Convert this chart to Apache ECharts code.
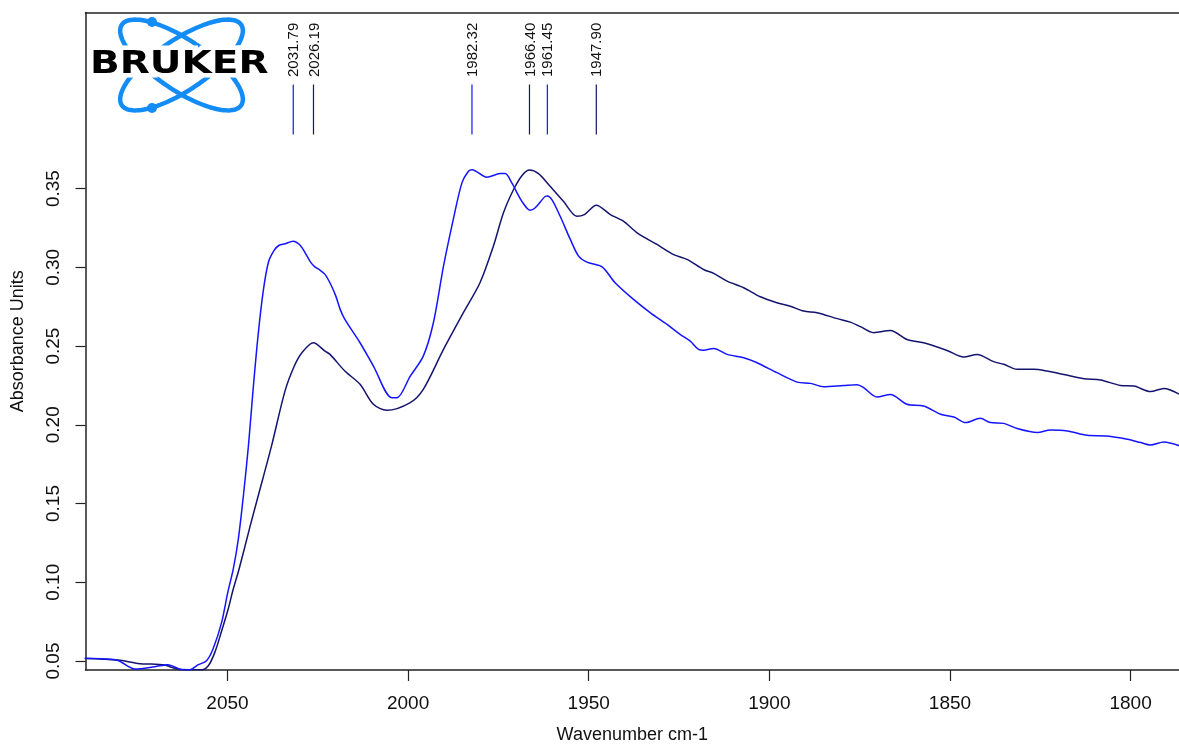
<!DOCTYPE html>
<html>
<head>
<meta charset="utf-8">
<title>Absorbance spectrum</title>
<script src="https://cdn.jsdelivr.net/npm/echarts@6/dist/echarts.min.js"></script>
<style>
  html, body { margin: 0; padding: 0; background: #fff; }
  #chart { width: 1179px; height: 749px; }
</style>
</head>
<body>
<div id="chart"></div>
<script>
// Spectrum A (bright blue trace): wavenumber (cm-1) and absorbance
const spectrumAWn = [
  2089.5, 2083.9, 2080.3, 2075.6, 2070.1, 2066.5, 2062.6, 2060.4, 2058.2, 2055.8,
  2054.0, 2051.6, 2049.9, 2048.4, 2047.0, 2045.6, 2044.2, 2042.9, 2041.5, 2040.1,
  2038.7, 2037.1, 2035.7, 2034.1, 2031.8, 2029.9, 2028.5, 2027.0, 2025.8, 2024.4,
  2023.0, 2021.4, 2020.0, 2018.8, 2017.5, 2013.3, 2009.6, 2004.5, 2003.1, 1999.4,
  1995.8, 1993.0, 1990.2, 1987.5, 1985.1, 1983.3, 1982.3, 1978.2, 1974.5, 1973.1,
  1971.3, 1968.5, 1966.2, 1964.8, 1962.0, 1961.5, 1960.2, 1957.9, 1955.1, 1952.8,
  1950.5, 1946.3, 1942.7, 1937.6, 1933.0, 1928.3, 1924.7, 1921.9, 1919.6, 1918.2,
  1915.4, 1911.7, 1907.1, 1903.4, 1897.9, 1892.3, 1888.6, 1885.0, 1879.4, 1875.7,
  1873.9, 1870.2, 1866.5, 1861.9, 1857.3, 1852.6, 1848.9, 1845.7, 1841.6, 1838.8,
  1835.1, 1831.4, 1825.8, 1822.2, 1817.5, 1812.0, 1806.5, 1800.9, 1797.2, 1794.5,
  1790.8, 1786.4
];
const spectrumAAbs = [
  0.0517, 0.0513, 0.0503, 0.0449, 0.0464, 0.0477, 0.0446, 0.0445, 0.0475, 0.0502,
  0.0576, 0.0747, 0.0938, 0.1083, 0.1274, 0.1548, 0.1866, 0.2225, 0.2574, 0.2849,
  0.3029, 0.3107, 0.3140, 0.3149, 0.3165, 0.3140, 0.3092, 0.3033, 0.3003, 0.2982,
  0.2955, 0.2891, 0.2817, 0.2733, 0.2669, 0.2521, 0.2373, 0.2172, 0.2172, 0.2309,
  0.2436, 0.2648, 0.3007, 0.3303, 0.3536, 0.3610, 0.3620, 0.3572, 0.3595, 0.3595,
  0.3536, 0.3419, 0.3362, 0.3378, 0.3451, 0.3453, 0.3430, 0.3324, 0.3177, 0.3071,
  0.3033, 0.3003, 0.2902, 0.2796, 0.2712, 0.2637, 0.2574, 0.2531, 0.2479, 0.2474,
  0.2485, 0.2447, 0.2426, 0.2394, 0.2331, 0.2271, 0.2263, 0.2242, 0.2250, 0.2255,
  0.2236, 0.2176, 0.2193, 0.2130, 0.2119, 0.2067, 0.2049, 0.2014, 0.2041, 0.2014,
  0.2009, 0.1976, 0.1951, 0.1967, 0.1961, 0.1933, 0.1929, 0.1908, 0.1887, 0.1872,
  0.1891, 0.1866
];

// Spectrum B (navy trace)
const spectrumBWn = [
  2089.5, 2080.3, 2074.8, 2067.3, 2065.5, 2062.7, 2057.1, 2055.3, 2053.5, 2051.6,
  2049.8, 2048.4, 2046.8, 2043.8, 2041.5, 2037.8, 2034.1, 2031.5, 2029.4, 2026.2,
  2023.0, 2021.6, 2017.5, 2013.3, 2009.6, 2005.9, 1999.4, 1995.8, 1990.2, 1984.7,
  1980.1, 1976.4, 1973.6, 1970.8, 1968.5, 1966.4, 1963.9, 1960.7, 1957.0, 1953.3,
  1951.2, 1947.9, 1944.0, 1940.4, 1936.6, 1931.1, 1926.5, 1922.8, 1918.2, 1915.4,
  1911.7, 1907.1, 1902.5, 1897.9, 1894.2, 1890.5, 1886.8, 1881.2, 1877.6, 1874.8,
  1871.1, 1866.5, 1861.9, 1857.3, 1850.8, 1846.2, 1842.5, 1837.9, 1835.1, 1831.4,
  1826.8, 1823.1, 1818.5, 1812.9, 1808.3, 1802.8, 1799.1, 1794.5, 1790.8, 1786.4
];
const spectrumBAbs = [
  0.0516, 0.0506, 0.0485, 0.0475, 0.0460, 0.0445, 0.0445, 0.0470, 0.0555, 0.0692,
  0.0830, 0.0957, 0.1083, 0.1350, 0.1548, 0.1866, 0.2212, 0.2373, 0.2458, 0.2521,
  0.2468, 0.2447, 0.2341, 0.2257, 0.2130, 0.2092, 0.2141, 0.2225, 0.2479, 0.2712,
  0.2902, 0.3134, 0.3346, 0.3494, 0.3582, 0.3618, 0.3595, 0.3515, 0.3419, 0.3324,
  0.3335, 0.3394, 0.3335, 0.3293, 0.3219, 0.3145, 0.3081, 0.3050, 0.2986, 0.2961,
  0.2912, 0.2870, 0.2813, 0.2775, 0.2753, 0.2722, 0.2712, 0.2674, 0.2652, 0.2623,
  0.2585, 0.2599, 0.2542, 0.2521, 0.2472, 0.2430, 0.2447, 0.2401, 0.2384, 0.2352,
  0.2352, 0.2341, 0.2320, 0.2293, 0.2284, 0.2250, 0.2246, 0.2211, 0.2231, 0.2193
];

// Picked peaks: wavenumber and the spectrum it belongs to (0 = A, 1 = B)
const peakWn = [2031.79, 2026.19, 1982.32, 1966.40, 1961.45, 1947.90];
const peakSpectrum = [0, 1, 0, 1, 0, 1];

// Axis ticks
const wnTicks = [1800, 1850, 1900, 1950, 2000, 2050];
const absTicks = [0.05, 0.10, 0.15, 0.20, 0.25, 0.30, 0.35];

const COLOR_A = '#1414ff';
const COLOR_B = '#14146e';
const LOGO_BLUE = '#148cf5';
const FONT = '"Liberation Sans", Arial, sans-serif';

// Bruker logo orbits as closed polygons
function orbit(cx, cy, a, b, angle) {
  const pts = [];
  const ca = Math.cos(angle), sa = Math.sin(angle);
  for (let i = 0; i < 120; i++) {
    const t = (i / 120) * Math.PI * 2;
    const u = a * Math.cos(t), v = b * Math.sin(t);
    pts.push([cx + u * ca - v * sa, cy + u * sa + v * ca]);
  }
  return pts;
}
const tilt = 34 * Math.PI / 180;

const chart = echarts.init(document.getElementById('chart'), null, { renderer: 'canvas' });

chart.setOption({
  animation: false,
  backgroundColor: '#fff',
  grid: { left: 85.5, right: 0, top: 12.5, bottom: 78, containLabel: false },
  xAxis: [{
    type: 'value',
    inverse: true,
    min: 1786.6,
    max: 2089.3,
    name: 'Wavenumber cm-1',
    nameLocation: 'middle',
    nameGap: 56,
    nameTextStyle: { fontFamily: FONT, fontSize: 18, color: '#111' },
    axisLine: { show: true, onZero: false, lineStyle: { color: '#222', width: 1.5 } },
    axisTick: { show: true, inside: false, length: 11, customValues: wnTicks, lineStyle: { color: '#222', width: 1.2 } },
    axisLabel: { show: true, customValues: wnTicks, margin: 24, fontFamily: FONT, fontSize: 19, color: '#111',
      formatter: v => String(Math.round(v)) },
    splitLine: { show: false }
  }, {
    type: 'value',
    position: 'top',
    inverse: true,
    min: 1786.6,
    max: 2089.3,
    axisLine: { show: true, onZero: false, lineStyle: { color: '#222', width: 1.5 } },
    axisTick: { show: false },
    axisLabel: { show: false },
    splitLine: { show: false }
  }],
  yAxis: {
    type: 'value',
    min: 0.0443,
    max: 0.4618,
    name: 'Absorbance Units',
    nameLocation: 'middle',
    nameGap: 58,
    nameRotate: 90,
    nameTextStyle: { fontFamily: FONT, fontSize: 18, color: '#111' },
    axisLine: { show: true, onZero: false, lineStyle: { color: '#222', width: 1.5 } },
    axisTick: { show: true, inside: false, length: 10, customValues: absTicks, lineStyle: { color: '#222', width: 1.2 } },
    axisLabel: { show: true, customValues: absTicks, rotate: 90, margin: 22, fontFamily: FONT, fontSize: 19, color: '#111',
      formatter: v => v.toFixed(2) },
    splitLine: { show: false }
  },
  series: [
    {
      name: 'A',
      type: 'line',
      data: spectrumAWn.map((w, i) => [w, spectrumAAbs[i]]),
      showSymbol: false,
      smooth: 0.3,
      lineStyle: { color: COLOR_A, width: 1.5 },
      itemStyle: { color: COLOR_A },
      z: 3
    },
    {
      name: 'B',
      type: 'line',
      data: spectrumBWn.map((w, i) => [w, spectrumBAbs[i]]),
      showSymbol: false,
      smooth: 0.3,
      lineStyle: { color: COLOR_B, width: 1.5 },
      itemStyle: { color: COLOR_B },
      z: 2
    },
    {
      // peak-pick markers: short vertical bar with the wavenumber written above it
      name: 'peaks',
      type: 'custom',
      clip: false,
      data: peakWn.map((w, i) => [w, 0.3, peakSpectrum[i]]),
      encode: { x: 0, y: 1 },
      renderItem(params, api) {
        const wn = api.value(0);
        const x = api.coord([wn, 0.3])[0];
        const top = params.coordSys.y;
        const color = api.value(2) === 0 ? COLOR_A : COLOR_B;
        return {
          type: 'group',
          children: [
            { type: 'line', shape: { x1: x, y1: top + 72, x2: x, y2: top + 122 },
              style: { stroke: color, lineWidth: 1.2 } },
            { type: 'text', x: x + 1, y: top + 64.5, rotation: Math.PI / 2,
              style: { text: wn.toFixed(2), textAlign: 'left', textVerticalAlign: 'middle',
                       font: '15px ' + FONT, fill: '#111' } }
          ]
        };
      },
      z: 4
    }
  ],
  graphic: [
    { type: 'polygon', shape: { points: orbit(181.5, 65, 72, 25.3, tilt) },
      style: { fill: 'none', stroke: LOGO_BLUE, lineWidth: 4.5 }, z: 10 },
    { type: 'polygon', shape: { points: orbit(181.5, 65, 72, 25.3, -tilt) },
      style: { fill: 'none', stroke: LOGO_BLUE, lineWidth: 4.5 }, z: 10 },
    { type: 'circle', shape: { cx: 152, cy: 22, r: 5 }, style: { fill: LOGO_BLUE }, z: 11 },
    { type: 'circle', shape: { cx: 152, cy: 108, r: 5 }, style: { fill: LOGO_BLUE }, z: 11 },
    { type: 'text', x: 90, y: 65, scaleX: 1.22, z: 12,
      style: { text: 'BRUKER', x: 0, y: 0, textAlign: 'left', textVerticalAlign: 'middle',
               font: '900 32px "DejaVu Sans", sans-serif', fill: '#fff', stroke: '#fff', lineWidth: 9 } },
    { type: 'text', x: 90, y: 65, scaleX: 1.22, z: 13,
      style: { text: 'BRUKER', x: 0, y: 0, textAlign: 'left', textVerticalAlign: 'middle',
               font: '900 32px "DejaVu Sans", sans-serif', fill: '#000' } }
  ]
});
</script>
</body>
</html>
